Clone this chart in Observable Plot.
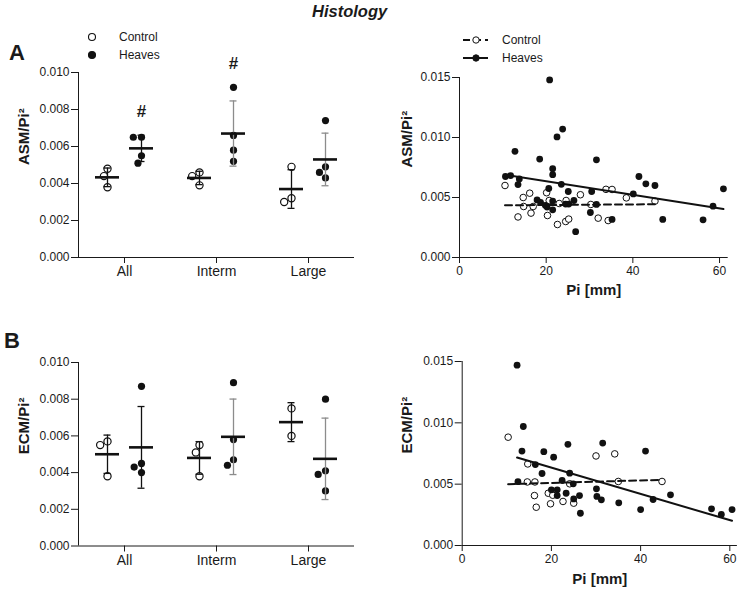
<!DOCTYPE html>
<html><head><meta charset="utf-8">
<script src="https://cdn.jsdelivr.net/npm/d3@7"></script>
<script src="https://cdn.jsdelivr.net/npm/@observablehq/plot@0.6"></script>
<style>
html,body{margin:0;padding:0;background:#fff;}
#page{position:relative;width:740px;height:594px;overflow:hidden;font-family:Arial,"Liberation Sans",Helvetica,sans-serif;}
</style></head><body><div id="page"></div>
<script>
const FONT = 'Arial, "Liberation Sans", Helvetica, sans-serif';
const title = "Histology";
const panelLetters = ["A", "B"];
const categories = ["All", "Interm", "Large"];
const groups = ["Control", "Heaves"];
const sigLabels = ["#", "#", ""];
const dotYTicks = [0, 0.002, 0.004, 0.006, 0.008, 0.010];
const scatterXTicks = [0, 20, 40, 60];
const scatterYTicks = [0, 0.005, 0.010, 0.015];
const asmLabel = "ASM/Pi²";
const ecmLabel = "ECM/Pi²";
const piLabel = "Pi [mm]";

// dot plots: one inner list per category
const asmControl = [[0.0048, 0.0044, 0.0038], [0.0046, 0.0044, 0.0039], [0.0049, 0.0032, 0.0030]];
const asmHeaves = [[0.0065, 0.0065, 0.0055, 0.0051], [0.0092, 0.0066, 0.0058, 0.0052], [0.0074, 0.0049, 0.0046, 0.0043]];
const ecmControl = [[0.0057, 0.0055, 0.0038], [0.0055, 0.0051, 0.0038], [0.0075, 0.0060]];
const ecmHeaves = [[0.0087, 0.0045, 0.0043, 0.0040], [0.0089, 0.0058, 0.0047, 0.0044], [0.0080, 0.0041, 0.0039, 0.0030]];

// scatter: [Pi mm, value]
const asmControlPts = [[10.5,0.0060],[13.5,0.00338],[14.7,0.0050],[14.8,0.00425],[16.2,0.00536],[16.5,0.0037],[17.0,0.00425],[20.1,0.0054],[20.3,0.0035],[20.7,0.00475],[22.6,0.00275],[23.0,0.0045],[24.5,0.0030],[25.2,0.0032],[24.6,0.00475],[27.9,0.00523],[30.3,0.00442],[32.0,0.00328],[33.8,0.00568],[35.2,0.00567],[34.3,0.00308],[38.5,0.00497],[45.1,0.0047]];
const asmHeavesPts = [[10.6,0.00675],[11.8,0.00683],[12.8,0.00885],[13.5,0.00608],[13.8,0.00655],[17.9,0.0048],[18.5,0.0082],[18.7,0.0046],[19.8,0.00435],[20.2,0.0042],[20.6,0.00575],[20.8,0.0148],[21.5,0.0074],[21.5,0.0069],[21.5,0.0047],[21.5,0.00397],[22.5,0.01005],[23.5,0.0061],[23.8,0.0107],[24.5,0.00445],[25.1,0.0055],[25.2,0.00445],[26.4,0.00475],[26.8,0.00215],[30.2,0.00375],[30.5,0.0055],[31.6,0.00814],[31.6,0.00442],[35.2,0.00317],[40.1,0.0053],[41.4,0.00675],[43.0,0.00614],[45.1,0.0060],[46.9,0.00317],[56.2,0.00314],[58.5,0.00428],[60.9,0.00572]];
const ecmControlPts = [[10.3,0.00883],[14.6,0.00518],[14.7,0.00665],[16.2,0.00407],[16.3,0.00518],[16.6,0.00312],[19.3,0.00426],[19.8,0.0034],[20.3,0.0041],[22.6,0.00359],[24.1,0.00503],[25.0,0.00345],[30.0,0.0073],[34.2,0.00747],[35.0,0.00522],[44.8,0.00522]];
const ecmHeavesPts = [[12.3,0.0147],[12.5,0.0052],[13.4,0.0077],[13.7,0.0097],[16.4,0.0066],[17.9,0.00587],[18.3,0.00765],[20.0,0.00454],[20.5,0.0072],[21.3,0.00454],[21.3,0.00407],[22.4,0.0053],[23.3,0.00426],[23.7,0.00825],[24.1,0.0059],[24.9,0.00503],[25.0,0.0038],[26.3,0.00407],[26.5,0.00263],[30.1,0.00462],[30.2,0.0040],[31.2,0.00372],[31.5,0.00835],[35.1,0.00348],[40.0,0.00293],[41.1,0.0077],[42.8,0.00375],[46.7,0.00413],[55.9,0.00299],[58.1,0.00253],[60.5,0.00293]];

const page = document.getElementById("page");
function place(el, left, top) {
  el.style.position = "absolute";
  el.style.left = left + "px";
  el.style.top = top + "px";
  page.appendChild(el);
}
const baseStyle = {background: "transparent", overflow: "visible", fontFamily: FONT, fontSize: "12px", color: "#1a1a1a"};

function dotPanel({control, heaves, sig, label, top, frameH}) {
  const W = 370, ml = 78, frameW = 276, mt = 32, mb = 45;
  const facetW = frameW / categories.length;
  const step = 34;               // distance between Control and Heaves columns
  const bandHalf = step / 2;     // Plot shifts marks by half the x bandwidth
  const rows = [];
  categories.forEach((cat, i) => {
    control[i].forEach(v => rows.push({cat, group: groups[0], v}));
    heaves[i].forEach(v => rows.push({cat, group: groups[1], v}));
  });
  const stats = d3.flatRollup(rows, g => {
    const mean = d3.mean(g, d => d.v), sd = d3.deviation(g, d => d.v);
    return {mean, lo: mean - sd, hi: mean + sd, top: Math.max(mean + sd, d3.max(g, d => d.v))};
  }, d => d.cat, d => d.group).map(([cat, group, s]) => ({cat, group, ...s}));
  const sigRows = stats.filter(s => s.group === groups[1])
    .map(s => ({...s, text: sig[categories.indexOf(s.cat)]})).filter(s => s.text);
  const barColor = d => (d.group === groups[1] && d.cat !== categories[0]) ? "#8c8c8c" : "#111";
  const capInset = (step - 7) / 2, meanInset = (step - 24) / 2;
  const svg = Plot.plot({
    width: W, height: mt + frameH + mb,
    marginLeft: ml, marginRight: W - ml - frameW, marginTop: mt, marginBottom: mb,
    style: baseStyle,
    fx: {domain: categories, padding: 0, axis: null},
    x: {domain: groups, axis: null, paddingInner: 0, paddingOuter: (facetW / step - 2) / 2},
    y: {domain: [0, 0.010], axis: null},
    marks: [
      Plot.axisY({ticks: dotYTicks, tickFormat: ".3f", tickSize: 7, tickPadding: 2, fontSize: 12, label: null}),
      Plot.axisFx({anchor: "bottom", tickSize: 6, tickPadding: 3, fontSize: 14, label: null}),
      Plot.ruleY([0], {stroke: "#1a1a1a"}),
      Plot.ruleX([{cat: categories[0]}], {fx: "cat", x: null, y1: 0, y2: 0.010, dx: -facetW / 2, stroke: "#1a1a1a"}),
      Plot.text([{cat: categories[0], t: label}], {fx: "cat", text: "t", frameAnchor: "left", rotate: -90, dx: -54, fontSize: 15, fontWeight: "bold"}),
      Plot.dot(rows.filter(d => d.group === groups[0]), Plot.dodgeX("middle", {fx: "cat", y: "v", r: 3.6, padding: 0, dx: -step / 2 - bandHalf, stroke: "#111", strokeWidth: 1.2, fill: "none"})),
      Plot.dot(rows.filter(d => d.group === groups[1]), Plot.dodgeX("middle", {fx: "cat", y: "v", r: 3.6, padding: 0, dx: step / 2 - bandHalf, fill: "#111"})),
      Plot.ruleX(stats, {fx: "cat", x: "group", y1: "lo", y2: "hi", stroke: barColor, strokeWidth: 1.3}),
      Plot.tickY(stats, {fx: "cat", x: "group", y: "lo", stroke: barColor, strokeWidth: 1.3, insetLeft: capInset, insetRight: capInset}),
      Plot.tickY(stats, {fx: "cat", x: "group", y: "hi", stroke: barColor, strokeWidth: 1.3, insetLeft: capInset, insetRight: capInset}),
      Plot.tickY(stats, {fx: "cat", x: "group", y: "mean", stroke: "#111", strokeWidth: 2.6, insetLeft: meanInset, insetRight: meanInset}),
      Plot.text(sigRows, {fx: "cat", x: "group", y: "top", text: "text", dy: -24, fontSize: 17, fontWeight: "bold"})
    ]
  });
  place(svg, 0, top);
}

function scatterPanel({ctrl, heaves, label, top, ml, xMax, frameW, frameH, labelDx, xLabelDy}) {
  const W = 360, mt = 32, mb = 45;
  const c = ctrl.map(([x, y]) => ({x, y}));
  const h = heaves.map(([x, y]) => ({x, y}));
  const svg = Plot.plot({
    width: W, height: mt + frameH + mb,
    marginLeft: ml, marginRight: W - ml - frameW, marginTop: mt, marginBottom: mb,
    style: baseStyle,
    x: {domain: [0, xMax], axis: null},
    y: {domain: [0, 0.015], axis: null},
    marks: [
      Plot.axisX({ticks: scatterXTicks, tickSize: 6, tickPadding: 3, fontSize: 12, label: null}),
      Plot.axisY({ticks: scatterYTicks, tickFormat: ".3f", tickSize: 7, tickPadding: 2, fontSize: 12, label: null}),
      Plot.ruleX([0], {stroke: "#1a1a1a"}),
      Plot.ruleY([0], {stroke: "#1a1a1a"}),
      Plot.text([label], {frameAnchor: "left", rotate: -90, dx: labelDx, fontSize: 15, fontWeight: "bold"}),
      Plot.text([piLabel], {frameAnchor: "bottom", dy: xLabelDy, fontSize: 15, fontWeight: "bold"}),
      Plot.dot(c, {x: "x", y: "y", r: 3.3, fill: "white", stroke: "#111", strokeWidth: 1}),
      Plot.dot(h, {x: "x", y: "y", r: 3.4, fill: "#111"}),
      Plot.linearRegressionY(c, {x: "x", y: "y", ci: 0, stroke: "#111", strokeWidth: 2, strokeDasharray: "7,4"}),
      Plot.linearRegressionY(h, {x: "x", y: "y", ci: 0, stroke: "#111", strokeWidth: 2})
    ]
  });
  place(svg, 380, top);
}

dotPanel({control: asmControl, heaves: asmHeaves, sig: sigLabels, label: asmLabel, top: 40, frameH: 185});
dotPanel({control: ecmControl, heaves: ecmHeaves, sig: ["", "", ""], label: ecmLabel, top: 330, frameH: 183.5});
scatterPanel({ctrl: asmControlPts, heaves: asmHeavesPts, label: asmLabel, top: 45, ml: 79, xMax: 62, frameW: 268.7, frameH: 180, labelDx: -52, xLabelDy: 37});
scatterPanel({ctrl: ecmControlPts, heaves: ecmHeavesPts, label: ecmLabel, top: 329, ml: 81.7, xMax: 61.7, frameW: 275.2, frameH: 184, labelDx: -55, xLabelDy: 38});

// overlay: title, panel letters, legends
const ov = d3.select(page).append("svg")
  .attr("width", 740).attr("height", 594)
  .style("position", "absolute").style("left", "0px").style("top", "0px")
  .style("pointer-events", "none")
  .attr("font-family", FONT).attr("fill", "#1a1a1a");
ov.append("text").attr("x", 312).attr("y", 17).attr("font-size", 16.5)
  .attr("font-weight", "bold").attr("font-style", "italic").text(title);
[[9, 60], [4, 348]].forEach(([x, y], i) => {
  ov.append("text").attr("x", x).attr("y", y).attr("font-size", 22).attr("font-weight", "bold").text(panelLetters[i]);
});
groups.forEach((g, i) => {
  const y = 37 + 18 * i;
  ov.append("circle").attr("cx", 92).attr("cy", y).attr("r", 3.5)
    .attr("fill", i ? "#111" : "white").attr("stroke", "#111").attr("stroke-width", 1.1);
  ov.append("text").attr("x", 119).attr("y", y).attr("dy", "0.35em").attr("font-size", 12).text(g);
  const y2 = 40 + 18 * i;
  ov.append("line").attr("x1", 463).attr("x2", 488).attr("y1", y2).attr("y2", y2)
    .attr("stroke", "#111").attr("stroke-width", 2).attr("stroke-dasharray", i ? null : "7,4");
  ov.append("circle").attr("cx", 476).attr("cy", y2).attr("r", 3.2)
    .attr("fill", i ? "#111" : "white").attr("stroke", "#111").attr("stroke-width", 1);
  ov.append("text").attr("x", 502).attr("y", y2).attr("dy", "0.35em").attr("font-size", 12).text(g);
});
</script></body></html>
